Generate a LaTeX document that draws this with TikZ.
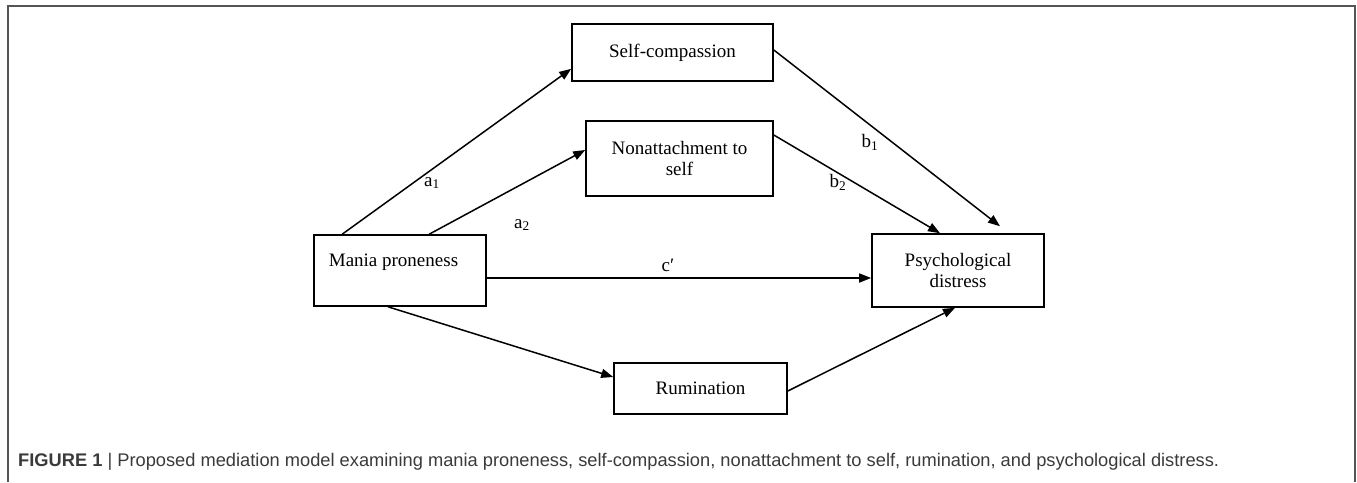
\documentclass[tikz,border=0pt]{standalone}
\usepackage{fontspec}
\setmainfont{Liberation Serif}
\newfontfamily\capfont{Liberation Sans}
\usetikzlibrary{arrows.meta}
\definecolor{framegray}{HTML}{555555}
\definecolor{capgray}{HTML}{3A3A3A}
\begin{document}
\begin{tikzpicture}[x=1pt,y=-1pt,
  box/.style={draw,line width=1.6pt,inner sep=0pt,align=center,
    font=\fontsize{19}{21.7}\selectfont},
  lbl/.style={inner sep=0pt,font=\fontsize{19}{21.7}\selectfont},
  conn/.style={line width=1.5pt,-{Triangle[length=12pt,width=9pt]}},
  plain/.style={line width=1.5pt}]
\useasboundingbox (0,0) rectangle (1357,482);
\draw[framegray,line width=1.3pt] (8,482) -- (8,6) -- (1355,6) -- (1355,482);

\node[box,minimum width=201pt,minimum height=57pt] (selfcomp) at (672.5,52.5) {Self-compassion};
\node[box,minimum width=187pt,minimum height=75pt] (nonatt) at (679.5,158.5) {Nonattachment to\\self};
\node[box,minimum width=172pt,minimum height=73pt] (psych) at (958,270.5) {Psychological\\distress};
\node[box,minimum width=172pt,minimum height=71pt] (mania) at (400,270.5) {};
\node[lbl] (maniatext) at (393.5,262) {Mania proneness};
\node[box,minimum width=173pt,minimum height=51pt] (rum) at (700.5,388.5) {Rumination};

\coordinate (b1end) at ([xshift=42,yshift=7]psych.north);

\draw[conn] ([xshift=29]mania.north west) -- ([yshift=13]selfcomp.south west);
\draw[conn] ([xshift=116]mania.north west) -- ([yshift=8.5]nonatt.west);
\draw[conn] ([yshift=2.5]selfcomp.east) -- (b1end);
\draw[conn] ([yshift=23.5]nonatt.east) -- ([xshift=-18]psych.north);
\draw[conn] ([yshift=-7.5]mania.east) -- ([yshift=-7.5]psych.west);
\draw[conn] ([xshift=-12]mania.south) -- ([yshift=11.5]rum.west);
\draw[conn] ([yshift=-2.5]rum.east) -- ([xshift=-3]psych.south);

\node[lbl] (la1) at (432,183) {a\textsubscript{1}};
\node[lbl] (la2) at (522,225) {a\textsubscript{2}};
\node[lbl] (lb1) at (870,142) {b\textsubscript{1}};
\node[lbl] (lb2) at (838,182) {b\textsubscript{2}};
\node[lbl] (lc) at (668,265) {c′};

\node[anchor=west,inner sep=0pt,text=capgray] (caption) at (18,462)
  {\resizebox{1201pt}{!}{\capfont\fontsize{17}{20}\selectfont\textbf{FIGURE 1} | Proposed mediation model examining mania proneness, self-compassion, nonattachment to self, rumination, and psychological distress.}};
\end{tikzpicture}
\end{document}
